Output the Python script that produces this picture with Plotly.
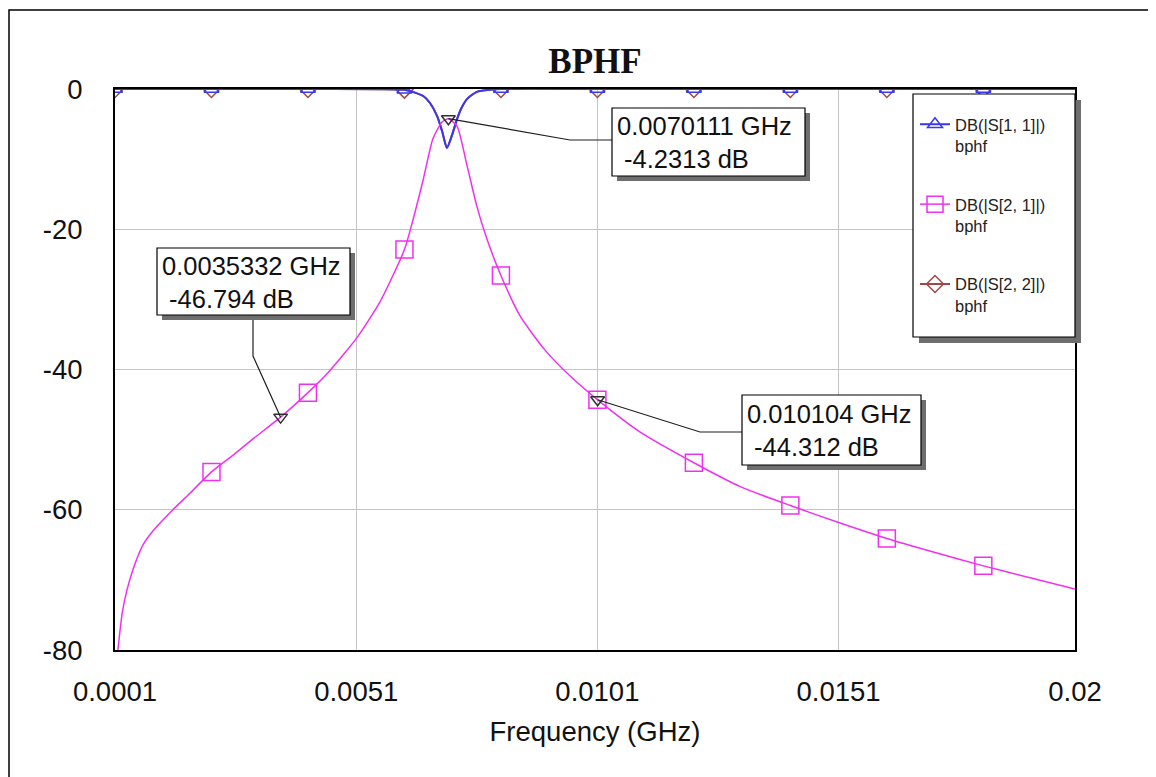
import numpy as np
import plotly.graph_objects as go

# ---------------- data ----------------
TITLE = "BPHF"
X_TITLE = "Frequency (GHz)"
X_RANGE = [0.0001, 0.02]
Y_RANGE = [-80, 0]
X_TICKS = [0.0001, 0.0051, 0.0101, 0.0151, 0.02]
X_TICK_TEXT = ["0.0001", "0.0051", "0.0101", "0.0151", "0.02"]
Y_TICKS = [-80, -60, -40, -20, 0]
Y_TICK_TEXT = ["-80", "-60", "-40", "-20", "0"]

# sweep points that carry a symbol marker
MARKER_F = [0.0001, 0.0021, 0.0041, 0.0061, 0.0081, 0.0101, 0.0121, 0.0141, 0.0161, 0.0181]

S11_NAME = "DB(|S[1, 1]|)<br>bphf"
S11_F = [0.0001, 0.0021, 0.0041, 0.0061, 0.00622, 0.00649, 0.00663, 0.00678, 0.00688,
         0.00698, 0.00709, 0.00719, 0.00729, 0.0074, 0.0076, 0.00787, 0.0081, 0.0101,
         0.0121, 0.0141, 0.0161, 0.0181, 0.02]
S11_DB = [0.0, 0.0, 0.0, -0.1, -0.3, -1.0, -2.0, -3.9, -6.0,
          -8.4, -6.5, -4.3, -2.6, -1.4, -0.4, -0.1, 0.0, 0.0,
          0.0, 0.0, 0.0, 0.0, 0.0]

S21_NAME = "DB(|S[2, 1]|)<br>bphf"
S21_F = [0.00016, 0.00025, 0.00035, 0.00047, 0.00057, 0.00068, 0.00089, 0.0013, 0.00166, 0.0021,
         0.00255, 0.00296, 0.0035332, 0.0041, 0.00451, 0.0051, 0.00559, 0.0061, 0.00628,
         0.00649, 0.00669, 0.00688, 0.0070111, 0.00719, 0.0074, 0.0076, 0.00781, 0.0081,
         0.0085, 0.00901, 0.00953, 0.0101, 0.01098, 0.0121, 0.01306, 0.0141, 0.01513,
         0.0161, 0.0171, 0.0181, 0.01907, 0.02]
S21_DB = [-80.0, -74.7, -71.4, -68.6, -66.7, -65.0, -63.0, -60.0, -57.6, -54.6,
          -52.2, -49.9, -46.794, -43.3, -40.5, -35.6, -30.4, -22.9, -18.6,
          -12.9, -7.1, -4.7, -4.2313, -5.3, -11.0, -16.7, -21.4, -26.6,
          -32.4, -37.2, -40.9, -44.3, -48.9, -53.3, -56.7, -59.4, -61.9,
          -64.1, -66.1, -68.0, -69.7, -71.3]

S22_NAME = "DB(|S[2, 2]|)<br>bphf"
S22_F = list(S11_F)      # coincides with S11 (hidden beneath it)
S22_DB = list(S11_DB)

CALLOUT_F = [0.0070111, 0.0035332, 0.010104]
CALLOUT_DB = [-4.2313, -46.794, -44.312]

# ---------------- layout geometry (reference pixels) ----------------
OFF = 8                      # page body margin
W, H = 1156, 777
L, R, T, B = 115, 1075, 89, 650


def px(x):
    return (x - L) / (R - L)


def py(y):
    return (B - y) / (B - T)


def d2p(f, db):
    return ((f - X_RANGE[0]) / (X_RANGE[1] - X_RANGE[0]),
            (db - Y_RANGE[0]) / (Y_RANGE[1] - Y_RANGE[0]))


def marker_idx(freqs):
    return [i for i, f in enumerate(freqs) if np.any(np.isclose(f, MARKER_F, rtol=0, atol=1e-7))]


fig = go.Figure()


def add_series(fx, fy, name, color, symbol, msize, lw, rank):
    fig.add_trace(go.Scatter(
        x=fx, y=fy, name=name, mode="lines+markers",
        line=dict(color=color, width=lw, shape="spline", smoothing=0.6),
        marker=dict(symbol=symbol, size=msize, color=color, line=dict(color=color, width=1.5)),
        selectedpoints=marker_idx(fx),
        selected=dict(marker=dict(opacity=1)),
        unselected=dict(marker=dict(opacity=0)),
        legendgroup=name, legendrank=rank, cliponaxis=True,
    ))


add_series(S22_F, S22_DB, S22_NAME, "#a04848", "diamond-open", 13, 2, 3)
add_series(S11_F, S11_DB, S11_NAME, "#3838f0", "triangle-up-open", 13, 2, 1)
add_series(S21_F, S21_DB, S21_NAME, "#f030f0", "square-open", 17, 1.5, 2)

fig.add_trace(go.Scatter(
    x=CALLOUT_F, y=CALLOUT_DB, mode="markers", showlegend=False,
    marker=dict(symbol="triangle-down-open", size=12, color="#303030", line=dict(width=1.5)),
))

# ---------------- decorations ----------------
shapes = []
# outer frame
shapes.append(dict(type="rect", xref="paper", yref="paper", x0=px(9), y0=py(10), x1=px(1175),
                   y1=py(795), line=dict(color="black", width=1.5), fillcolor="rgba(0,0,0,0)",
                   layer="above"))

SHADOW = "#6e6e6e"


def box(x0, y0, x1, y1, off):
    shapes.append(dict(type="rect", xref="paper", yref="paper", x0=px(x0 + off), y0=py(y0 + off),
                       x1=px(x1 + off), y1=py(y1 + off), line=dict(width=0), fillcolor=SHADOW,
                       layer="above"))
    shapes.append(dict(type="rect", xref="paper", yref="paper", x0=px(x0), y0=py(y0),
                       x1=px(x1), y1=py(y1), line=dict(color="black", width=1.2),
                       fillcolor="white", layer="above"))


# legend box
box(913, 94, 1075, 337, 6)

# callout boxes: (box pixel rect, bend point, box attach point, text origin)
CALLOUT_BOXES = [((612, 108, 805, 176), (570, 140), (612, 140), (615, 142)),
                 ((157, 248, 350, 315), (253, 356), (253, 315), (160, 282)),
                 ((742, 395, 921, 465), (700, 432), (742, 432), (745, 430))]

annotations = []
for (f, db, (rect, bend, att, org)) in zip(CALLOUT_F, CALLOUT_DB, CALLOUT_BOXES):
    mx, my = d2p(f, db)
    shapes.append(dict(type="path", xref="paper", yref="paper",
                       path=f"M {mx},{my} L {px(bend[0])},{py(bend[1])} L {px(att[0])},{py(att[1])}",
                       line=dict(color="#202020", width=1.2), layer="above"))
    box(*rect, 5)
    annotations.append(dict(xref="paper", yref="paper", x=px(org[0]), y=py(org[1]),
                            xanchor="left", yanchor="middle", align="left", showarrow=False,
                            text=f"{f} GHz<br>\u00a0{db} dB",
                            font=dict(family="Liberation Sans, Arial", size=25.5, color="#111")))

fig.update_layout(
    width=W - OFF, height=H - OFF,
    margin=dict(l=L - OFF, r=W - R, t=T - OFF, b=H - B, autoexpand=False),
    paper_bgcolor="white", plot_bgcolor="white",
    font=dict(family="Liberation Sans, Arial", color="#111"),
    title=dict(text=f"<b>{TITLE}</b>", x=px(595), xref="paper", xanchor="center",
               y=1 - (61 - OFF) / (H - OFF), yref="container", yanchor="middle",
               font=dict(family="Liberation Serif, Times New Roman", size=35, color="#111")),
    xaxis=dict(range=X_RANGE, tickvals=X_TICKS, ticktext=X_TICK_TEXT, showgrid=True,
               gridcolor="#c4c4c4", gridwidth=1, zeroline=False, showline=True,
               linecolor="black", linewidth=2, mirror=True, ticks="",
               tickfont=dict(size=27.5), ticklabelstandoff=16,
               title=dict(text=X_TITLE, font=dict(size=27.5), standoff=16),
               layer="below traces"),
    yaxis=dict(range=Y_RANGE, tickvals=Y_TICKS, ticktext=Y_TICK_TEXT, showgrid=True,
               gridcolor="#c4c4c4", gridwidth=1, zeroline=False, showline=True,
               linecolor="black", linewidth=2, mirror=True, ticks="",
               tickfont=dict(size=27.5), ticklabelstandoff=25, layer="below traces"),
    legend=dict(x=px(915), y=py(107), xanchor="left", yanchor="top",
                bgcolor="rgba(0,0,0,0)", borderwidth=0,
                font=dict(family="Liberation Sans, Arial", size=16.5, color="#222"),
                tracegroupgap=34, valign="top", itemsizing="trace", itemwidth=30),
    shapes=shapes, annotations=annotations, showlegend=True,
)

fig.write_html("out.html")
